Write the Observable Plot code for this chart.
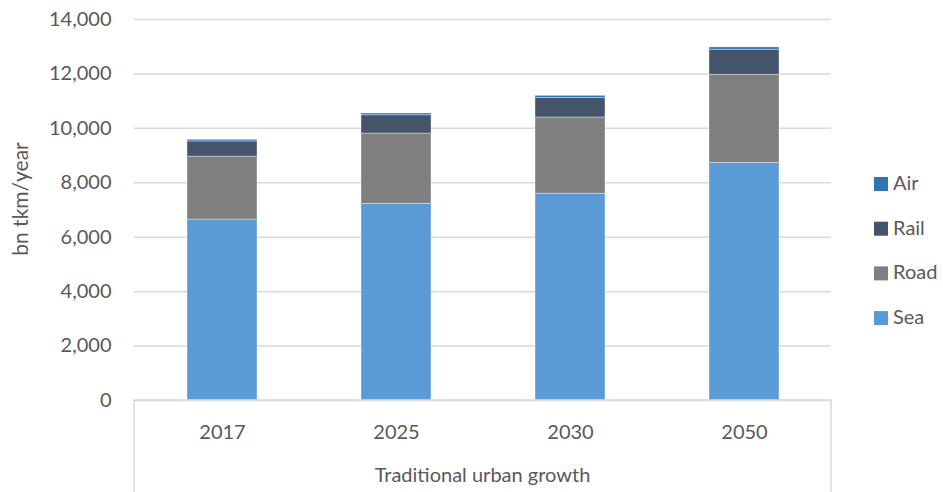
<!DOCTYPE html>
<html>
<head>
<meta charset="utf-8">
<script src="https://cdn.jsdelivr.net/npm/d3@7"></script>
<script src="https://cdn.jsdelivr.net/npm/@observablehq/plot@0.6"></script>
<style>
  html, body { margin: 0; padding: 0; background: #ffffff; }
  #chart { width: 943px; height: 492px; }
</style>
</head>
<body>
<div id="chart"></div>
<script>
const years = ["2017", "2025", "2030", "2050"];
const modes = ["Sea", "Road", "Rail", "Air"];
const sea  = [6650, 7230, 7600, 8730];
const road = [2310, 2580, 2800, 3240];
const rail = [560, 670, 720, 920];
const air  = [60, 65, 75, 85];
const yTicks = [0, 2000, 4000, 6000, 8000, 10000, 12000, 14000];
const legendOrder = ["Air", "Rail", "Road", "Sea"];
const colors = {Sea: "#5B9BD5", Road: "#7F7F7F", Rail: "#44546A", Air: "#2E75B6"};
const yLabel = "bn tkm/year";
const groupLabel = "Traditional urban growth";

const series = {Sea: sea, Road: road, Rail: rail, Air: air};
const data = [];
years.forEach((yr, i) => modes.forEach(m => data.push({year: yr, mode: m, value: series[m][i]})));

const font = "Lato, 'Open Sans', sans-serif";

const plot = Plot.plot({
  width: 943,
  height: 492,
  marginLeft: 134,
  marginRight: 112,
  marginTop: 19,
  marginBottom: 92,
  style: {fontFamily: font, fontSize: "20px", color: "#595959", background: "#ffffff", overflow: "visible"},
  x: {domain: years, paddingInner: 0.6, paddingOuter: 0.3, label: null},
  y: {domain: [0, 14000], label: null},
  color: {domain: modes, range: modes.map(m => colors[m])},
  marks: [
    Plot.gridY(yTicks, {stroke: "#d9d9d9", strokeOpacity: 1, strokeWidth: 1.5}),
    Plot.barY(data, {x: "year", y: "value", fill: "mode", order: modes, stroke: "#ffffff", strokeWidth: 0.8, strokeOpacity: 0.45}),
    Plot.axisY(yTicks, {tickFormat: d3.format(","), tickSize: 0, tickPadding: 23, label: null}),
    Plot.axisX({tickSize: 0, tickPadding: 24, label: null})
  ]
});

const svg = d3.select(plot);
const xs = plot.scale("x");
const ys = plot.scale("y");
const xl = xs.range[0], xr = xs.range[1];
const y0 = ys.apply(0);

// category box lines
const g = svg.append("g").attr("stroke", "#d9d9d9").attr("stroke-width", 1.5);
g.append("line").attr("x1", xl).attr("x2", xr).attr("y1", y0).attr("y2", y0);
g.append("line").attr("x1", xl).attr("x2", xl).attr("y1", y0).attr("y2", 492);
g.append("line").attr("x1", xr).attr("x2", xr).attr("y1", y0).attr("y2", 492);

// group label
svg.append("text")
  .attr("x", (xl + xr) / 2).attr("y", 482)
  .attr("text-anchor", "middle")
  .attr("fill", "#595959")
  .style("font-family", font).style("font-size", "20px")
  .text(groupLabel);

// y label
svg.append("text")
  .attr("transform", "translate(28,199) rotate(-90)")
  .attr("text-anchor", "middle")
  .attr("fill", "#595959")
  .style("font-family", font).style("font-size", "21px")
  .text(yLabel);

// legend
const lg = svg.append("g");
legendOrder.forEach((m, i) => {
  const cy = 183 + i * 44.7;
  lg.append("rect").attr("x", 874).attr("y", cy - 6).attr("width", 14).attr("height", 14).attr("fill", colors[m]);
  lg.append("text").attr("x", 893).attr("y", cy + 7)
    .attr("text-anchor", "start")
    .attr("fill", "#595959")
    .style("font-family", font).style("font-size", "20px")
    .text(m);
});

document.getElementById("chart").appendChild(plot);
</script>
</body>
</html>
